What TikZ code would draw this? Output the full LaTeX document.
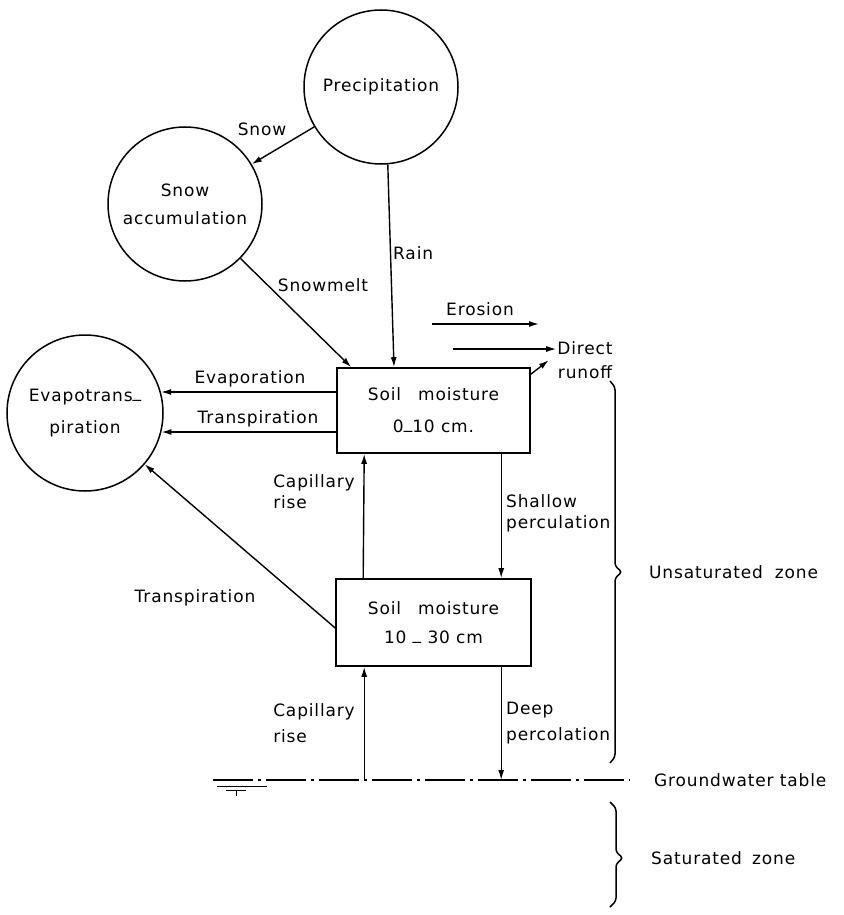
\documentclass[tikz,border=0pt]{standalone}
\usepackage{fontspec}
\setmainfont{DejaVu Sans}[LetterSpace=5]
\usetikzlibrary{arrows.meta,calc}
\newcommand\lowdash{\raisebox{0.25em}{\_}}
\begin{document}
\begin{tikzpicture}[x=1pt,y=-1pt,
  every node/.style={font=\fontsize{17}{30}\selectfont},
  ring/.style={draw,circle,line width=1.5pt,inner sep=0pt,align=center},
  store/.style={draw,rectangle,line width=1.6pt,align=center,inner sep=0pt},
  flow/.style={line width=1.4pt,-{Latex[length=10pt,width=6pt]}},
  lbl/.style={inner sep=1pt,font=\fontsize{17}{24}\selectfont},
  gw/.style={line width=1.5pt,dash pattern=on 40pt off 5pt on 3pt off 5pt},
  zone/.style={line width=1.5pt,rounded corners=3pt}]
\useasboundingbox (0,0) rectangle (843,915);

% stores
\node[ring,minimum size=154pt] (prec) at (381,87) {Precipitation};
\node[ring,minimum size=154pt,font=\fontsize{17}{28}\selectfont] (snow) at (185,204) {Snow\\accumulation};
\node[ring,minimum size=156pt,font=\fontsize{17}{32}\selectfont] (evap) at (85,413) {Evapotrans\lowdash\\piration};
\node[store,minimum width=193pt,minimum height=85pt,font=\fontsize{17}{32}\selectfont] (box1) at (433.5,410.5) {Soil\hspace{1em}moisture\\0\lowdash10 cm.};
\node[store,minimum width=195pt,minimum height=87pt,font=\fontsize{17}{29}\selectfont] (box2) at (433.5,622.5) {Soil\hspace{1em}moisture\\10 \lowdash\ 30 cm};

% precipitation paths
\draw[flow] (prec) -- (snow);
\node[lbl] (lsnow) at (262,129) {Snow};
\draw[flow] (prec.275) -- ([xshift=-39.5pt]box1.north);
\node[lbl,anchor=west] (lrain) at (392,253) {Rain};
\draw[flow] (snow) -- ([xshift=15pt]box1.north west);
\node[lbl] (lmelt) at (323,285) {Snowmelt};

% surface outflows
\coordinate (ero1) at (432,324);
\coordinate (ero2) at (539,324);
\draw[flow] (ero1) -- (ero2);
\node[lbl] (lero) at (480,309) {Erosion};
\node[lbl,align=center] (runoff) at (585,360) {Direct\\runoff};
\coordinate (ro1) at (453,349);
\draw[flow] (ro1) -- (ro1 -| runoff.west);
\draw[flow] ([yshift=-7pt]box1.north east) -- ++(18,-14);

% evapotranspiration
\coordinate (evs) at ([yshift=18.5pt]box1.west);
\coordinate (trs) at ([yshift=-21.5pt]box1.west);
\draw[flow] (evs) -- (evs -| evap.15);
\draw[flow] (trs) -- (trs -| evap.-14);
\node[lbl] (levap) at (250,379) {Evaporation};
\node[lbl] (ltr1) at (258,419) {Transpiration};
\draw[flow] ([yshift=-5.5pt]box2.west) -- (evap);
\node[lbl] (ltr2) at (195,598) {Transpiration};

% exchange between the layers
\draw[flow] ([xshift=28pt]box2.north west) -- ([xshift=28pt]box1.south west);
\node[lbl,align=left,anchor=east,font=\fontsize{17}{21}\selectfont] (cap1) at (356,492) {Capillary\\rise};
\draw[flow] ([xshift=165pt]box1.south west) -- ([xshift=166pt]box2.north west);
\node[lbl,align=left,anchor=west,font=\fontsize{17}{21}\selectfont] (shal) at (505,513) {Shallow\\perculation};

% groundwater table
\coordinate (gwl) at (213,780);
\coordinate (gwr) at (630,780);
\draw[gw] (gwl) -- (gwr);
\draw[line width=0.9pt] (217,786) -- (267,786);
\draw[line width=0.9pt] (226,790) -- (246,790);
\draw[line width=0.9pt] (236,791) -- (236,796);
\node[lbl,anchor=west] (lgw) at (653,780) {Groundwater table};

\coordinate (c2) at ([xshift=29pt]box2.south west);
\draw[flow] (c2 |- gwl) -- (c2);
\node[lbl,align=left,anchor=east,font=\fontsize{17}{26}\selectfont] (cap2) at (356,723) {Capillary\\rise};
\coordinate (d2) at ([xshift=166pt]box2.south west);
\draw[flow] (d2) -- (d2 |- gwl);
\node[lbl,align=left,anchor=west,font=\fontsize{17}{26}\selectfont] (deep) at (505,723) {Deep\\percolation};

% zones
\draw[zone] (610,381) -- (615,387) -- (615,566) -- (622,572) -- (615,578) -- (615,757) -- (610,763);
\node[lbl,anchor=west] (unsat) at (648,572) {Unsaturated\hspace{0.7em}zone};
\draw[zone] (610,802) -- (616,808) -- (616,852) -- (623,858) -- (616,864) -- (616,901) -- (610,907);
\node[lbl,anchor=west] (sat) at (650,858) {Saturated\hspace{0.6em}zone};
\end{tikzpicture}
\end{document}
